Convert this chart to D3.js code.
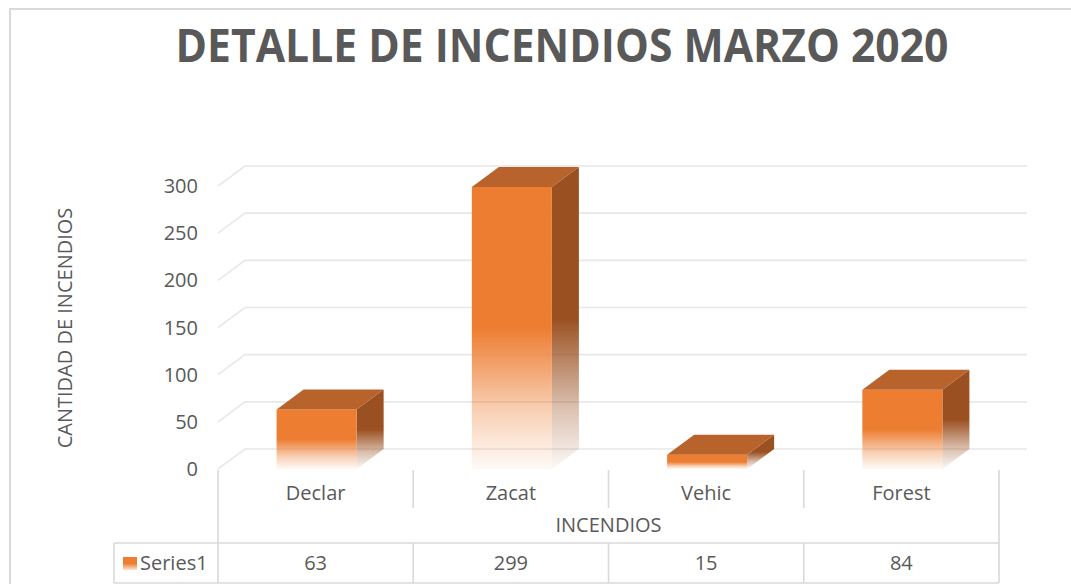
<!DOCTYPE html>
<html>
<head>
<meta charset="utf-8">
<script src="https://cdn.jsdelivr.net/npm/d3@7"></script>
<style>
  html, body { margin: 0; padding: 0; background: #ffffff; }
  svg { display: block; }
  text { font-family: "Open Sans", "DejaVu Sans", sans-serif; fill: #595959; }
</style>
</head>
<body>
<svg id="chart" width="1071" height="584"></svg>
<script>
// ---- data ----
const categories = ["Declar", "Zacat", "Vehic", "Forest"];
const seriesName = "Series1";
const values = [63, 299, 15, 84];
const yTicks = [0, 50, 100, 150, 200, 250, 300];
const titleText = "DETALLE DE INCENDIOS MARZO 2020";
const yTitle = "CANTIDAD DE INCENDIOS";
const xTitle = "INCENDIOS";

// ---- layout ----
const W = 1071, H = 584;
const svg = d3.select("#chart");
const left = 218, right = 999;
const depthX = 27, depthY = -20;
const backRight = 1027;

const x = d3.scaleBand().domain(categories).range([left, right]).padding(0);
const y = d3.scaleLinear().domain([0, 300]).range([469, 186]);
const barFrac = 0.41;

const defs = svg.append("defs");
function fadeGrad(id, color) {
  const g = defs.append("linearGradient").attr("id", id)
    .attr("x1", 0).attr("y1", 0).attr("x2", 0).attr("y2", 1);
  g.append("stop").attr("offset", "0").attr("stop-color", color).attr("stop-opacity", 1);
  g.append("stop").attr("offset", "0.5").attr("stop-color", color).attr("stop-opacity", 1);
  g.append("stop").attr("offset", "0.8").attr("stop-color", color).attr("stop-opacity", 0.35);
  g.append("stop").attr("offset", "1").attr("stop-color", color).attr("stop-opacity", 0.04);
}
fadeGrad("gFront", "#ED7D31");
fadeGrad("gSide", "#9A5020");
const lg = defs.append("linearGradient").attr("id", "gKey")
  .attr("x1", 0).attr("y1", 0).attr("x2", 0).attr("y2", 1);
lg.append("stop").attr("offset", "0.5").attr("stop-color", "#ED7D31");
lg.append("stop").attr("offset", "1").attr("stop-color", "#ED7D31").attr("stop-opacity", 0.2);

// outer chart border
svg.append("rect").attr("x", 10).attr("y", 9).attr("width", W + 20).attr("height", H + 20)
  .attr("fill", "none").attr("stroke", "#D9D9D9").attr("stroke-width", 2);

// title
svg.append("text").attr("x", 562).attr("y", 62)
  .attr("text-anchor", "middle")
  .style("font-size", "46px").style("font-weight", "bold")
  .attr("textLength", 773).attr("lengthAdjust", "spacingAndGlyphs")
  .text(titleText);

// gridlines (side wall slant + back wall)
const grid = svg.append("g").attr("fill", "none").attr("stroke", "#E8E8E8").attr("stroke-width", 1.6);
yTicks.forEach(t => {
  const yy = y(t);
  grid.append("path").attr("d",
    `M${left},${yy} L${left + depthX},${yy + depthY} L${backRight},${yy + depthY}`);
});

// tick labels
svg.append("g").selectAll("text").data(yTicks).join("text")
  .attr("x", 198).attr("y", d => y(d)).attr("dy", "0.35em")
  .attr("text-anchor", "end").style("font-size", "20px")
  .text(d => d);

// y title
svg.append("text").attr("transform", "translate(72,328) rotate(-90)")
  .attr("text-anchor", "middle").style("font-size", "20px").text(yTitle);

// bars
const bars = svg.append("g").selectAll("g").data(categories).join("g");
bars.each(function (c, i) {
  const g = d3.select(this);
  const bw = x.bandwidth() * barFrac;
  const x0 = x(c) + (x.bandwidth() - bw) / 2 + 1;
  const x1 = x0 + bw;
  const yt = y(values[i]);
  const yb = y(0);
  // side face
  g.append("path").attr("fill", "url(#gSide)")
    .attr("d", `M${x1},${yt} L${x1 + depthX},${yt + depthY} L${x1 + depthX},${yb + depthY} L${x1},${yb} Z`);
  // front face
  g.append("path").attr("fill", "url(#gFront)")
    .attr("d", `M${x0},${yt} L${x1},${yt} L${x1},${yb} L${x0},${yb} Z`);
  // top face
  g.append("path").attr("fill", "#B7632B")
    .attr("d", `M${x0},${yt} L${x0 + depthX},${yt + depthY} L${x1 + depthX},${yt + depthY} L${x1},${yt} Z`);
});

// category axis / data table lines
const lines = svg.append("g").attr("stroke", "#D9D9D9").attr("stroke-width", 1.6).attr("fill", "none");
const tTop = 470, sepBottom = 508, rowTop = 543, rowBottom = 583;
lines.append("line").attr("x1", left).attr("x2", left).attr("y1", tTop).attr("y2", rowBottom);
lines.append("line").attr("x1", right).attr("x2", right).attr("y1", tTop).attr("y2", rowBottom);
categories.slice(1).forEach(c => {
  lines.append("line").attr("x1", x(c)).attr("x2", x(c)).attr("y1", tTop).attr("y2", sepBottom);
  lines.append("line").attr("x1", x(c)).attr("x2", x(c)).attr("y1", rowTop).attr("y2", rowBottom);
});
lines.append("line").attr("x1", 114).attr("x2", right).attr("y1", rowTop).attr("y2", rowTop);
lines.append("line").attr("x1", 114).attr("x2", right).attr("y1", rowBottom).attr("y2", rowBottom);
lines.append("line").attr("x1", 114).attr("x2", 114).attr("y1", rowTop).attr("y2", rowBottom);

// category labels
svg.append("g").selectAll("text").data(categories).join("text")
  .attr("x", d => x(d) + x.bandwidth() / 2).attr("y", 493).attr("dy", "0.35em")
  .attr("text-anchor", "middle").style("font-size", "20px").text(d => d);

// x title
svg.append("text").attr("x", (left + right) / 2).attr("y", 525).attr("dy", "0.35em")
  .attr("text-anchor", "middle").style("font-size", "20px").text(xTitle);

// table values
svg.append("g").selectAll("text").data(values).join("text")
  .attr("x", (d, i) => x(categories[i]) + x.bandwidth() / 2).attr("y", 563).attr("dy", "0.35em")
  .attr("text-anchor", "middle").style("font-size", "20px").text(d => d);

// legend key
svg.append("rect").attr("x", 123).attr("y", 557).attr("width", 14).attr("height", 13).attr("fill", "url(#gKey)");
svg.append("text").attr("x", 140).attr("y", 563).attr("dy", "0.35em")
  .style("font-size", "20px").text(seriesName);
</script>
</body>
</html>
